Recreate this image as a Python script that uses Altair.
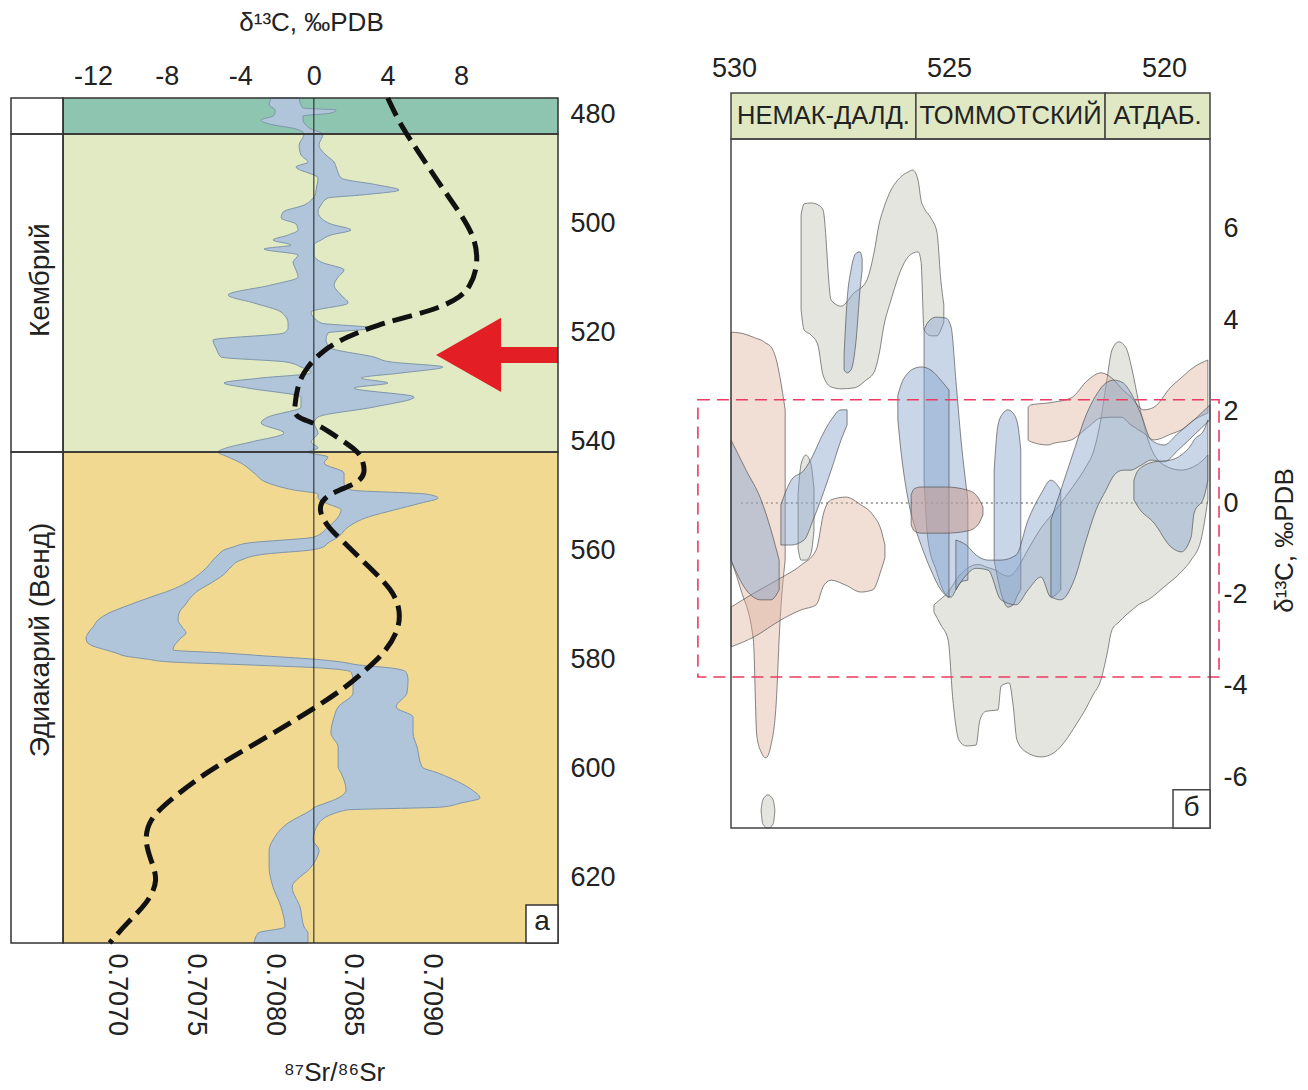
import altair as alt
import pandas as pd

FONT = "Liberation Sans"
INK = "#222222"

# ---------------- panel a: δ13C envelope and 87Sr/86Sr curve ----------------
# envelope of δ13C values (‰ PDB): age (Ma), lower and upper bound
ENV_AGE = [477.06, 478.35, 478.90, 479.26, 479.82, 480.37, 481.10, 481.83, 482.75, 483.67,
           485.69, 487.52, 488.81, 489.72, 491.74, 493.03, 493.94, 494.86, 495.41, 496.70,
           497.98, 499.08, 500.18, 501.28, 502.20, 503.12, 504.04, 504.77, 505.87, 507.16,
           508.62, 509.91, 511.38, 513.21, 514.68, 516.33, 518.35, 519.27, 520.18, 521.47,
           522.94, 524.59, 525.50, 526.42, 527.52, 528.44, 529.36, 530.28, 531.93, 533.76,
           535.60, 536.70, 538.53, 540.18, 541.28, 542.02, 542.94, 544.04, 545.87, 547.71,
           548.99, 549.73, 550.46, 551.38, 552.66, 553.95, 555.78, 557.62, 558.72, 559.45,
           560.00, 560.73, 561.84, 563.12, 564.59, 566.06, 567.34, 568.62, 570.09, 571.56,
           572.84, 574.13, 575.23, 576.15, 576.88, 577.62, 578.35, 578.90, 579.45, 580.00,
           580.55, 581.10, 581.65, 582.39, 583.85, 586.24, 588.81, 590.64, 593.58, 596.15,
           599.82, 600.92, 604.04, 605.51, 606.42, 607.16, 607.71, 610.09, 613.21, 615.05,
           618.17, 621.84, 625.51, 629.18, 630.28, 632.11]
ENV_LO = [-2.33, -2.43, -2.22, -2.11, -2.11, -2.22, -2.87, -2.43, -0.97, -0.53,
          -0.80, -0.70, -0.32, -0.97, 0.23, 0.17, 0.12, 0.07, -0.04, -0.53,
          -1.67, -1.78, -0.97, -0.86, -1.40, -2.22, -1.24, -2.71, -0.86, -1.13,
          -0.97, -0.86, -2.33, -4.66, -3.25, -1.78, -1.40, -1.40, -1.62, -5.48,
          -5.32, -5.04, -1.51, -0.70, -0.15, -2.87, -4.88, -3.58, -0.70, -0.70,
          -2.49, -2.87, -1.62, -3.41, -4.77, -5.21, -4.66, -3.96, -3.25, -2.49,
          -1.08, 0.23, 0.23, 0.66, 1.48, 1.32, 0.77, 0.01, -3.58, -4.39,
          -4.88, -5.15, -5.48, -5.80, -6.29, -6.95, -7.76, -8.85, -10.04, -11.13,
          -11.73, -12.00, -12.27, -12.38, -12.33, -12.00, -11.29, -10.75, -10.26, -9.12,
          -7.76, -3.41, 0.39, 2.02, 2.13, 2.13, 1.32, 1.10, 0.93, 1.32,
          1.32, 1.48, 1.75, 1.32, 0.66, 0.07, -0.15, -1.40, -2.22, -2.43,
          -2.43, -2.22, -1.78, -1.57, -3.03, -3.25]
ENV_HI = [-0.80, -0.70, -0.59, 1.21, 0.93, -0.59, -0.59, -0.48, -0.15, 0.50,
          0.28, 0.66, 1.10, 1.21, 1.48, 3.49, 4.63, 2.57, 0.77, 0.39,
          0.23, 0.39, 0.93, 2.02, 0.93, 0.39, 0.01, 0.01, 0.01, 0.39,
          1.64, 1.32, 1.10, 1.48, 1.86, -0.15, 0.39, 3.27, 0.77, 0.66,
          0.93, 3.27, 4.20, 7.02, 4.74, 2.57, 4.03, 2.18, 5.45, 3.27,
          0.23, 0.01, 0.23, -0.15, 0.23, -0.32, 0.77, 0.55, 1.64, 1.64,
          2.02, 6.09, 6.75, 5.83, 4.36, 2.95, 1.86, 1.32, 0.77, 0.50,
          -0.15, -2.60, -3.96, -4.50, -4.93, -5.59, -6.24, -6.67, -7.00, -7.33,
          -7.38, -7.16, -6.95, -7.22, -7.43, -7.60, -7.65, -4.88, -2.60, -0.10,
          1.48, 2.46, 4.20, 5.01, 5.12, 5.06, 4.47, 5.39, 5.39, 5.61,
          5.88, 6.75, 8.60, 9.03, 8.00, 6.97, 1.75, 0.28, -0.04, 0.28,
          -0.15, -1.18, -0.75, -0.53, -0.32, -0.32]

# seawater 87Sr/86Sr curve
SR_AGE = [477.06, 482.0, 487.2, 493.4, 498.2, 503.1, 508.1, 511.7, 513.6, 515.4,
          516.9, 518.7, 520.9, 523.3, 526.4, 529.4, 533.8, 535.6, 536.7, 538.5,
          542.0, 543.5, 545.9, 547.7, 549.0, 550.5, 552.7, 555.8, 558.2, 563.1,
          567.3, 571.0, 574.7, 578.9, 582.0, 585.1, 589.9, 594.9, 600.9, 606.4,
          609.5, 613.2, 616.9, 620.6, 624.8, 628.4, 632.1]
SR_VAL = [0.70872, 0.70880, 0.70892, 0.70906, 0.70918, 0.70928, 0.70929, 0.70924, 0.70918, 0.70906,
          0.70889, 0.70865, 0.70846, 0.70831, 0.70821, 0.70815, 0.70813, 0.70813, 0.70826, 0.70836,
          0.70854, 0.70856, 0.70858, 0.70853, 0.70841, 0.70831, 0.70828, 0.70834, 0.70843, 0.70860,
          0.70875, 0.70880, 0.70879, 0.70870, 0.70858, 0.70846, 0.70821, 0.70792, 0.70756, 0.70732,
          0.70721, 0.70718, 0.70722, 0.70727, 0.70720, 0.70707, 0.70696]

# time-scale rows (Ma) and column limits on the δ13C scale
ROW_EDGES = [477.06, 483.67, 542.02, 632.11]
ROW_FILL = ["#8ec5b1", "#e1eac3", "#f2d992"]
COL_EDGES = [-16.46, -13.63, 13.27]
PERIOD_NAME = ["Кембрий", "Эдиакарий (Венд)"]
PERIOD_AGE = [510.5, 576.5]
PERIOD_X = -14.83

AGE_TICKS = [480, 500, 520, 540, 560, 580, 600, 620]
D13C_TICKS_A = [-12, -8, -4, 0, 4, 8]
SR_TICKS = [0.7070, 0.7075, 0.7080, 0.7085, 0.7090]

ARROW_AGE = 524.2
ARROW_HEAD_X = 8.41
ARROW_TAIL = [10.07, 13.27]
LABEL_A_BOX = [11.53, 13.27, 625.14, 632.11]

# ---------------- panel b: δ13C fields, 530–519 Ma ----------------
G1_AGE = [528.44, 528.37, 528.21, 528.05, 527.93, 527.74, 527.51, 527.21, 526.93, 526.74, 526.63, 526.51,
          526.35, 526.12, 525.95, 525.84, 525.72, 525.65, 525.58, 525.42, 525.28, 525.19, 525.12]
G1_LO = [4.23, 3.79, 3.68, 3.46, 2.80, 2.54, 2.50, 2.52, 2.69, 2.87, 3.24, 3.90,
         4.44, 5.10, 5.39, 5.47, 5.50, 5.28, 3.79, 3.66, 3.66, 3.79, 3.96]
G1_HI = [6.31, 6.55, 6.57, 6.53, 6.42, 4.44, 4.31, 4.60, 4.84, 5.50, 6.09, 6.48,
         6.85, 7.14, 7.25, 7.29, 7.07, 6.63, 6.46, 6.24, 5.93, 4.88, 4.34]

G2_AGE = [528.51, 528.44, 528.33, 528.21, 528.14]
G2_LO = [-1.00, -1.25, -1.25, -1.10, -0.60]
G2_HI = [0.20, 0.85, 1.05, 0.85, 0.30]

GE_AGE = [529.37, 529.33, 529.21, 529.09, 529.05]
GE_LO = [-6.74, -7.03, -7.12, -7.03, -6.74]
GE_HI = [-6.72, -6.50, -6.39, -6.50, -6.72]

G45_AGE = [525.35, 525.19, 525.02, 524.91, 524.77, 524.60, 524.37, 524.28, 524.14, 523.86, 523.79, 523.60,
           523.51, 523.42, 523.21, 522.86, 522.56, 522.28, 522.05, 521.81, 521.65, 521.47, 521.33, 521.21,
           521.05, 520.88, 520.74, 520.60, 520.37, 520.00, 519.60, 519.37, 519.14, 518.98]
G45_LO = [-2.39, -2.67, -3.00, -4.31, -5.19, -5.32, -5.30, -4.75, -4.56, -4.53, -4.01, -3.94,
          -4.42, -5.19, -5.45, -5.56, -5.47, -5.19, -4.86, -4.49, -4.20, -3.88, -3.33, -2.78,
          -2.61, -2.45, -2.34, -2.23, -2.12, -1.84, -1.51, -1.25, -0.81, 0.07]
G45_HI = [-2.23, -2.10, -1.95, -1.80, -1.60, -1.45, -1.35, -1.35, -1.40, -1.50, -1.55, -1.60,
          -1.55, -1.45, -1.10, -0.55, -0.20, 0.15, 0.45, 0.80, 1.10, 1.82, 2.69, 3.35,
          3.53, 3.39, 2.91, 2.26, 1.38, 0.83, 0.72, 0.77, 0.90, 1.05]

B1_AGE = [527.44, 527.37, 527.28, 527.16, 527.07, 527.02]
B1_LO = [2.91, 2.85, 2.91, 3.57, 4.66, 5.10]
B1_HI = [3.24, 4.44, 5.10, 5.47, 5.50, 5.36]

B2_AGE = [528.91, 528.67, 528.37, 528.16, 527.98, 527.74, 527.51, 527.37]
B2_LO = [-0.92, -0.92, -0.81, -0.37, 0.07, 0.72, 1.38, 1.71]
B2_HI = [-0.04, 0.50, 0.72, 1.05, 1.42, 1.82, 2.04, 2.04]

B3_AGE = [525.58, 525.49, 525.30, 525.07, 524.95, 524.84, 524.72, 524.56]
B3_LO = [0.50, -0.81, -1.47, -2.01, -2.06, -1.90, -1.73, -1.69]
B3_HI = [3.79, 3.96, 4.07, 4.05, 3.85, 2.69, 1.38, 0.07]

B4_AGE = [530.07, 529.72, 529.37, 529.14, 528.95]
B4_LO = [-1.25, -1.90, -2.12, -2.12, -1.90]
B4_HI = [1.38, 0.72, 0.07, -0.59, -1.25]

B5_AGE = [526.19, 526.12, 525.95, 525.77, 525.65, 525.42, 525.19, 525.00]
B5_LO = [1.82, 1.16, 0.07, -0.59, -0.92, -1.47, -1.90, -2.08]
B5_HI = [2.36, 2.58, 2.85, 2.96, 2.98, 2.91, 2.69, 2.47]

B6_AGE = [523.95, 523.86, 523.74, 523.63, 523.51, 523.40, 523.33]
B6_LO = [-1.25, -1.69, -2.12, -2.28, -2.23, -2.01, -1.90]
B6_HI = [0.72, 1.71, 1.97, 2.04, 1.97, 1.71, 1.16]

BL_AGE = [524.84, 524.60, 524.37, 524.09, 523.79, 523.44, 523.16, 522.86, 522.63, 522.40]
BL_LO = [-1.90, -1.58, -1.43, -1.47, -2.12, -2.23, -1.90, -1.62, -2.06, -1.90]
BL_HI = [-0.81, -0.92, -1.14, -1.25, -1.25, -1.14, -0.37, 0.20, 0.50, 0.28]

B7_AGE = [522.63, 522.40, 522.09, 521.81, 521.58, 521.35, 521.16, 520.95, 520.77, 520.53, 520.30,
          520.00, 519.67, 519.30, 518.93]
B7_LO = [-2.06, -2.12, -1.69, -0.81, -0.15, 0.28, 0.61, 0.72, 0.72, 0.83, 0.94,
         0.90, 1.16, 1.49, 1.82]
B7_HI = [-0.37, 0.28, 1.16, 1.93, 2.36, 2.63, 2.69, 2.63, 2.41, 1.93, 1.38,
         1.27, 1.53, 1.82, 2.15]

B8_AGE = [520.70, 520.60, 520.23, 519.84, 519.60, 519.37, 519.30, 519.07, 518.98]
B8_LO = [0.07, -0.09, -0.44, -0.96, -1.07, -0.75, -0.22, 0.13, 0.50]
B8_HI = [0.50, 0.72, 0.90, 0.94, 1.05, 1.27, 1.38, 1.60, 1.82]

P1_AGE = [530.07, 529.84, 529.55, 529.47, 529.37, 529.26, 529.14, 529.02, 528.93, 528.81]
P1_LO = [-1.25, -1.90, -3.00, -5.10, -5.45, -5.58, -5.30, -4.40, -2.60, -1.25]
P1_HI = [3.74, 3.72, 3.63, 3.60, 3.57, 3.50, 3.42, 3.15, 2.75, 2.04]

P2_AGE = [530.07, 529.53, 528.91, 528.44, 528.09, 527.91, 527.74, 527.40, 527.05, 526.77, 526.58, 526.49]
P2_LO = [-3.15, -2.93, -2.56, -2.34, -2.23, -1.80, -1.69, -1.80, -1.95, -1.90, -1.47, -1.20]
P2_HI = [-2.28, -1.97, -1.64, -1.36, -1.03, -0.20, 0.07, 0.13, -0.04, -0.26, -0.59, -0.92]

P3_AGE = [523.16, 523.09, 522.70, 522.56, 522.16, 521.77, 521.47, 521.16, 521.00, 520.77, 520.47,
          520.23, 519.84, 519.60, 519.30, 518.98]
P3_LO = [1.38, 1.34, 1.27, 1.31, 1.38, 1.66, 1.86, 1.88, 1.88, 1.71, 1.53,
         1.38, 1.51, 1.60, 1.82, 1.97]
P3_HI = [2.10, 2.15, 2.19, 2.21, 2.30, 2.69, 2.85, 2.69, 2.52, 2.32, 2.04,
         2.10, 2.54, 2.74, 2.98, 3.13]

P4_AGE = [525.88, 525.81, 525.65, 525.07, 524.56, 524.33, 524.21]
P4_LO = [-0.48, -0.61, -0.66, -0.66, -0.61, -0.48, -0.26]
P4_HI = [0.18, 0.31, 0.35, 0.35, 0.28, 0.13, -0.09]

STAGE_NAME = ["НЕМАК-ДАЛД.", "ТОММОТСКИЙ", "АТДАБ."]
STAGE_EDGES = [530.07, 525.77, 521.37, 518.93]
STAGE_BAND = [7.97, 8.98]
AGE_TICKS_B = [530, 525, 520]
D13C_TICKS_B = [-6, -4, -2, 0, 2, 4, 6]
BOX_B = [-7.116, 7.97]
FOCUS_BOX = [530.84, 518.72, -3.81, 2.26]
LABEL_B_BOX = [519.79, 518.93, -7.116, -6.28]

MINUS = "datum.value < 0 ? '-' + abs(datum.value) : '' + datum.value"
TICK_FS = 27

# ======================= panel a =======================
xs_a = alt.Scale(domain=[COL_EDGES[0], COL_EDGES[-1]], nice=False, zero=False)
ys_a = alt.Scale(domain=[ROW_EDGES[0], ROW_EDGES[-1]], nice=False, zero=False, reverse=True)

x_axis_a = alt.Axis(orient="top", values=D13C_TICKS_A, labelExpr=MINUS, ticks=False, domain=False,
                    grid=False, labelFontSize=TICK_FS, labelPadding=8, labelFlush=False,
                    title="δ¹³C, ‰PDB", titleFontSize=26, titleX=300, titleY=-76,
                    titleAlign="center", titleBaseline="middle")
y_axis_a = alt.Axis(orient="right", values=AGE_TICKS, format="d", ticks=False, domain=False,
                    grid=False, labelFontSize=TICK_FS, labelPadding=12, labelFlush=False, title=None)


# every layer of a panel carries the same axis definition, so the shared axis is kept
def xa(field):
    return alt.X(field, type="quantitative", scale=xs_a, axis=x_axis_a)


def ya(field):
    return alt.Y(field, type="quantitative", scale=ys_a, axis=y_axis_a)


cells = []
for i in range(3):
    cells.append({"x1": COL_EDGES[0], "x2": COL_EDGES[1], "y1": ROW_EDGES[i], "y2": ROW_EDGES[i + 1], "fill": "#ffffff"})
    cells.append({"x1": COL_EDGES[1], "x2": COL_EDGES[2], "y1": ROW_EDGES[i], "y2": ROW_EDGES[i + 1], "fill": ROW_FILL[i]})
cells_df = pd.DataFrame(cells)

bands = alt.Chart(cells_df).mark_rect(strokeWidth=0).encode(
    x=xa("x1"), x2="x2:Q", y=ya("y1"), y2="y2:Q",
    fill=alt.Fill("fill:N", scale=None),
)

env_df = pd.DataFrame({"age": ENV_AGE, "lo": ENV_LO, "hi": ENV_HI})
envelope = alt.Chart(env_df).mark_area(orient="horizontal", color="#b0c5da", stroke="#7e95aa",
                                       strokeWidth=1, opacity=1, interpolate="monotone").encode(
    y=ya("age"), x=xa("lo"), x2="hi:Q",
)

zero_df = pd.DataFrame({"x": [0.0], "y1": [ROW_EDGES[0]], "y2": [ROW_EDGES[-1]]})
zero_line = alt.Chart(zero_df).mark_rule(color="#1a1a1a", strokeWidth=1).encode(
    x=xa("x"), y=ya("y1"), y2="y2:Q",
)

shaft_df = pd.DataFrame({"x1": [ARROW_TAIL[0]], "x2": [ARROW_TAIL[1]], "y": [ARROW_AGE]})
shaft = alt.Chart(shaft_df).mark_rule(color="#e31e24", strokeWidth=16, strokeCap="butt").encode(
    x=xa("x1"), x2="x2:Q", y=ya("y"),
)
head_df = pd.DataFrame({"x": [ARROW_HEAD_X], "y": [ARROW_AGE]})
head = alt.Chart(head_df).mark_point(shape="M -1 0 L 1 -1.14 L 1 1.14 Z", filled=True, size=4225,
                                     color="#e31e24", opacity=1, strokeWidth=0).encode(
    x=xa("x"), y=ya("y"),
)

borders = alt.Chart(cells_df).mark_rect(fillOpacity=0, stroke="#333333", strokeWidth=1.5).encode(
    x=xa("x1"), x2="x2:Q", y=ya("y1"), y2="y2:Q",
)

per_df = pd.DataFrame({"name": PERIOD_NAME, "age": PERIOD_AGE, "x": [PERIOD_X] * 2})
periods = alt.Chart(per_df).mark_text(angle=270, font=FONT, fontSize=28, color=INK,
                                      align="center", baseline="middle").encode(
    x=xa("x"), y=ya("age"), text="name:N",
)

abox_df = pd.DataFrame({"x1": [LABEL_A_BOX[0]], "x2": [LABEL_A_BOX[1]], "y1": [LABEL_A_BOX[2]],
                        "y2": [LABEL_A_BOX[3]], "xc": [(LABEL_A_BOX[0] + LABEL_A_BOX[1]) / 2],
                        "yc": [(LABEL_A_BOX[2] + LABEL_A_BOX[3]) / 2], "t": ["а"]})
abox = alt.Chart(abox_df).mark_rect(fill="white", stroke="#333333", strokeWidth=1.5).encode(
    x=xa("x1"), x2="x2:Q", y=ya("y1"), y2="y2:Q",
)
atext = alt.Chart(abox_df).mark_text(font=FONT, fontSize=28, color=INK, baseline="middle", dy=-2).encode(
    x=xa("xc"), y=ya("yc"), text="t:N",
)

panel_a_base = alt.layer(bands, envelope, zero_line, shaft, head, borders, periods, abox, atext)

sr_df = pd.DataFrame({"age": SR_AGE, "sr": SR_VAL})
sr_line = alt.Chart(sr_df).mark_line(color="#111111", strokeWidth=5, strokeDash=[20, 8],
                                     interpolate="basis", strokeCap="butt").encode(
    x=alt.X("sr:Q", scale=alt.Scale(domain=[0.7063354, 0.7097975], nice=False, zero=False),
            axis=alt.Axis(orient="bottom", values=SR_TICKS, format=".4f", labelAngle=90,
                          ticks=False, domain=False, grid=False, labelFontSize=TICK_FS, labelPadding=10,
                          labelFlush=False, title="⁸⁷Sr/⁸⁶Sr", titleFontSize=26, titleX=323,
                          titleY=129, titleAlign="center", titleBaseline="middle")),
    y=ya("age"),
    order="age:Q",
)

panel_a = alt.layer(panel_a_base, sr_line).resolve_scale(x="independent").properties(
    width=547, height=845)

# ======================= panel b =======================
xs_b = alt.Scale(domain=[STAGE_EDGES[-1], STAGE_EDGES[0]], reverse=True, nice=False, zero=False)
ys_b = alt.Scale(domain=[BOX_B[0], 8.868], nice=False, zero=False)

x_axis_b = alt.Axis(orient="top", values=AGE_TICKS_B, format="d", ticks=False, domain=False, grid=False,
                    labelFontSize=TICK_FS, labelPadding=16, labelFlush=False, title=None)
y_axis_b = alt.Axis(orient="right", values=D13C_TICKS_B, labelExpr=MINUS, ticks=False, domain=False,
                    grid=False, labelFontSize=TICK_FS, labelPadding=13, labelFlush=False,
                    title="δ¹³C, ‰PDB", titleFontSize=26, titleAngle=270, titleX=74, titleY=442,
                    titleAlign="center", titleBaseline="middle")


def xb(field):
    return alt.X(field, type="quantitative", scale=xs_b, axis=x_axis_b)


def yb(field):
    return alt.Y(field, type="quantitative", scale=ys_b, axis=y_axis_b)


zline_df = pd.DataFrame({"x1": [529.84], "x2": [518.98], "y": [0.0]})
zline = alt.Chart(zline_df).mark_rule(color="#8a8a8a", strokeWidth=1.5, strokeDash=[2, 3]).encode(
    x=xb("x1"), x2="x2:Q", y=yb("y"),
)

BLOBS = [
    ("G1", "gray", G1_AGE, G1_LO, G1_HI),
    ("G2", "gray", G2_AGE, G2_LO, G2_HI),
    ("GE", "gray", GE_AGE, GE_LO, GE_HI),
    ("G45", "gray", G45_AGE, G45_LO, G45_HI),
    ("P1", "pink", P1_AGE, P1_LO, P1_HI),
    ("P2", "pink", P2_AGE, P2_LO, P2_HI),
    ("P3", "pink", P3_AGE, P3_LO, P3_HI),
    ("B1", "blue", B1_AGE, B1_LO, B1_HI),
    ("B2", "blue", B2_AGE, B2_LO, B2_HI),
    ("B3", "blue", B3_AGE, B3_LO, B3_HI),
    ("B4", "blue", B4_AGE, B4_LO, B4_HI),
    ("B5", "blue", B5_AGE, B5_LO, B5_HI),
    ("B6", "blue", B6_AGE, B6_LO, B6_HI),
    ("BL", "blue", BL_AGE, BL_LO, BL_HI),
    ("B7", "blue", B7_AGE, B7_LO, B7_HI),
    ("B8", "blue", B8_AGE, B8_LO, B8_HI),
    ("P4", "pill", P4_AGE, P4_LO, P4_HI),
]
rows = []
for name, kind, ages, los, his in BLOBS:
    for a, lo, hi in zip(ages, los, his):
        rows.append({"blob": name, "kind": kind, "age": a, "lo": lo, "hi": hi})
blob_df = pd.DataFrame(rows)

STYLE = {"gray": ("#c6c6bb", 0.45), "pink": ("#dcac96", 0.40), "blue": ("#86a3cb", 0.45),
         "pill": ("#c79a92", 0.55)}
blob_layers = []
for kind in ["gray", "pink", "blue", "pill"]:
    fill, op = STYLE[kind]
    blob_layers.append(
        alt.Chart(blob_df).transform_filter(alt.datum.kind == kind).mark_area(
            orient="vertical", fill=fill, fillOpacity=op, stroke="#4a4a4a", strokeOpacity=0.65,
            strokeWidth=1, interpolate="monotone").encode(
            x=xb("age"), y=yb("lo"), y2="hi:Q", detail="blob:N",
        )
    )

focus_df = pd.DataFrame({"x1": [FOCUS_BOX[0]], "x2": [FOCUS_BOX[1]], "y1": [FOCUS_BOX[2]], "y2": [FOCUS_BOX[3]]})
focus = alt.Chart(focus_df).mark_rect(fillOpacity=0, stroke="#ec3b62", strokeWidth=1.6,
                                      strokeDash=[12, 7]).encode(
    x=xb("x1"), x2="x2:Q", y=yb("y1"), y2="y2:Q",
)

stage_df = pd.DataFrame({
    "name": STAGE_NAME,
    "x1": STAGE_EDGES[:-1], "x2": STAGE_EDGES[1:],
    "xc": [(a + b) / 2 for a, b in zip(STAGE_EDGES[:-1], STAGE_EDGES[1:])],
    "y1": [STAGE_BAND[0]] * 3, "y2": [STAGE_BAND[1]] * 3,
    "yc": [(STAGE_BAND[0] + STAGE_BAND[1]) / 2] * 3,
})
stage_rects = alt.Chart(stage_df).mark_rect(fill="#dfe8c2", stroke="#444444", strokeWidth=1.5).encode(
    x=xb("x1"), x2="x2:Q", y=yb("y1"), y2="y2:Q",
)
stage_text = alt.Chart(stage_df).mark_text(font=FONT, fontSize=25.5, color=INK, baseline="middle").encode(
    x=xb("xc"), y=yb("yc"), text="name:N",
)

frame_df = pd.DataFrame({"x1": [STAGE_EDGES[0]], "x2": [STAGE_EDGES[-1]], "y1": [BOX_B[0]], "y2": [BOX_B[1]]})
frame = alt.Chart(frame_df).mark_rect(fillOpacity=0, stroke="#444444", strokeWidth=1.5).encode(
    x=xb("x1"), x2="x2:Q", y=yb("y1"), y2="y2:Q",
)

bbox_df = pd.DataFrame({"x1": [LABEL_B_BOX[0]], "x2": [LABEL_B_BOX[1]], "y1": [LABEL_B_BOX[2]],
                        "y2": [LABEL_B_BOX[3]], "xc": [(LABEL_B_BOX[0] + LABEL_B_BOX[1]) / 2],
                        "yc": [(LABEL_B_BOX[2] + LABEL_B_BOX[3]) / 2], "t": ["б"]})
bbox = alt.Chart(bbox_df).mark_rect(fill="white", stroke="#444444", strokeWidth=1.5).encode(
    x=xb("x1"), x2="x2:Q", y=yb("y1"), y2="y2:Q",
)
btext = alt.Chart(bbox_df).mark_text(font=FONT, fontSize=28, color=INK, baseline="middle", dy=-1).encode(
    x=xb("xc"), y=yb("yc"), text="t:N",
)

panel_b = alt.layer(zline, *blob_layers, focus, stage_rects, stage_text, frame, bbox, btext).properties(
    width=479, height=730)

chart = alt.hconcat(panel_a, panel_b, spacing=173, bounds="flush").properties(
    padding={"left": 10, "top": 9, "right": 5, "bottom": 5},
    background="white",
).configure_view(stroke=None).configure_axis(
    labelFont=FONT, titleFont=FONT, labelColor=INK, titleColor=INK, titleFontWeight="normal",
)

chart.save("out.html", embed_options={"renderer": "svg", "actions": False})
